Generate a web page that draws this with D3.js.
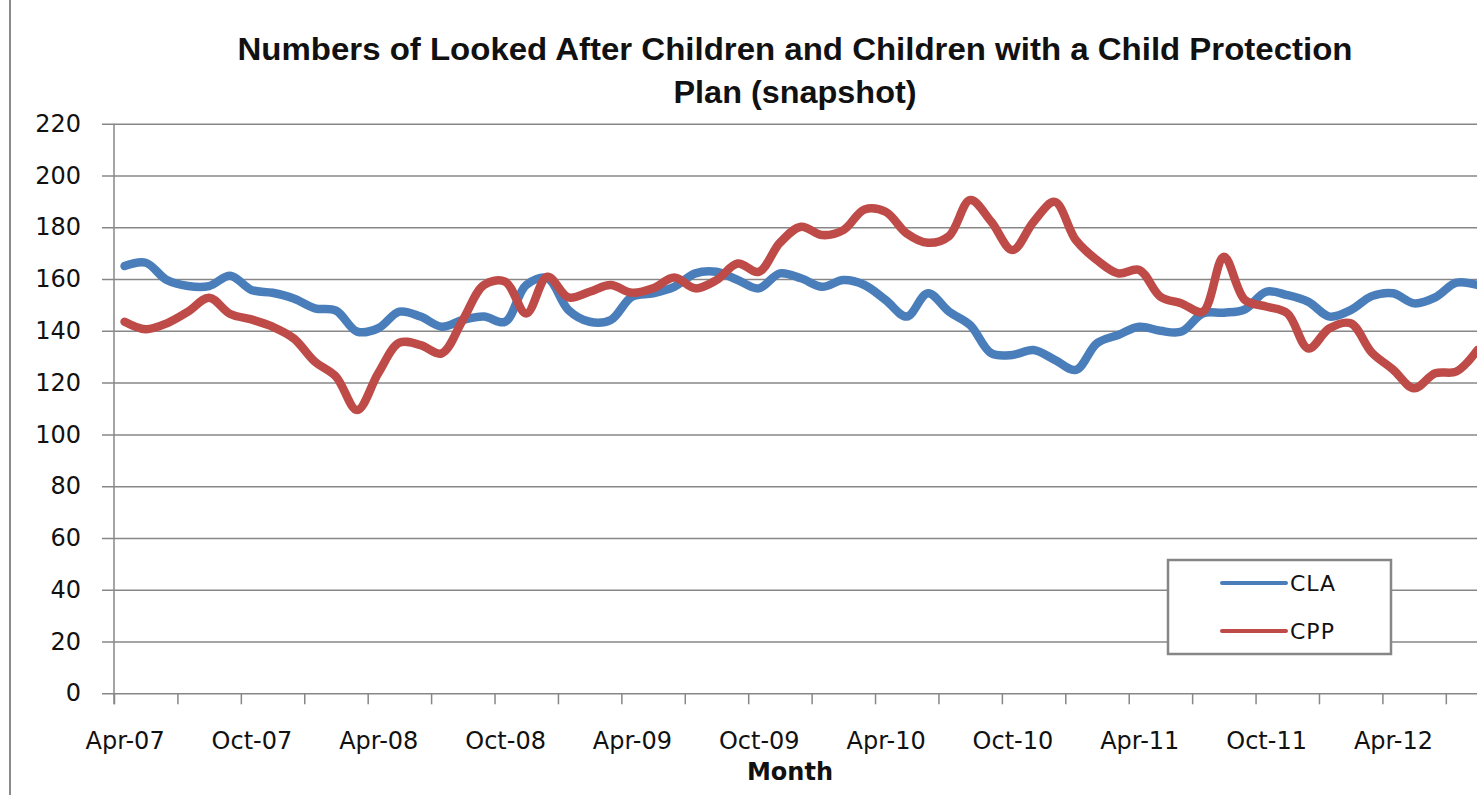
<!DOCTYPE html>
<html>
<head>
<meta charset="utf-8">
<script src="https://cdn.jsdelivr.net/npm/d3@7"></script>
<style>
  body { margin: 0; background: #fff; }
  svg { display: block; }
  .lbl { font-family: "DejaVu Sans", Verdana, sans-serif; font-size: 24px; fill: #111; }
  .axis path { display: none; }
</style>
</head>
<body>
<svg id="chart" width="1477" height="795"></svg>
<script>
// Monthly snapshot, Apr-07 .. Aug-12
var startMonth = new Date(2007, 3, 1);
var cla = [165, 166.3, 159.6, 157.3, 157.3, 161.3, 155.8, 154.7, 152.5, 148.7, 147.8, 139.7,
           141, 147.4, 145.5, 141.6, 144.2, 145.5, 143.5, 157.7, 160.3, 148, 143.5, 144.2,
           153.2, 154.5, 157, 162.2, 162.8, 159.6, 156.4, 162.2, 160.3, 157, 159.6, 157.7,
           151.9, 145.5, 154.5, 147.4, 142.2, 131.3, 130.7, 132.6, 128.8, 124.9, 135.2, 138.4,
           141.6, 140, 139.7, 146.7, 147, 148.3, 155.1, 153.8, 151.2, 145.5, 148, 153.4,
           154.5, 150.6, 152.9, 158.6, 157.7];
var cpp = [143.5, 140.6, 142.9, 147.4, 152.8, 146.5, 144.4, 141.6, 137.1, 128.1, 122.3, 109.4,
           123.6, 135.4, 134.5, 131.3, 144.2, 157.7, 159, 146.7, 160.9, 152.9, 155.1, 157.7,
           154.7, 156.4, 160.6, 156.4, 159.6, 166, 162.8, 174, 180.2, 177, 178.9, 186.9,
           186, 177.6, 174, 176.6, 190.5, 182.1, 171.2, 182.1, 189.8, 175, 167.3, 162.2,
           163.5, 153.2, 150.6, 147.4, 168.6, 151.9, 149.4, 146.8, 133.2, 141, 142.9, 131.6,
           125.1, 117.8, 123.6, 124.3, 132.6];
var seriesNames = ["CLA", "CPP"];
var seriesColors = ["#4A7EBB", "#BE4B48"];
var yTicks = [0, 20, 40, 60, 80, 100, 120, 140, 160, 180, 200, 220];
var titleLines = ["Numbers of Looked After Children and Children with a Child Protection", "Plan (snapshot)"];

var svg = d3.select("#chart");
var W = 1477;
var nMonths = 66;
var monthW = 21.14;
var left = 114;

var x = d3.scaleLinear().domain([0, nMonths]).range([left, left + nMonths * monthW]);
var y = d3.scaleLinear().domain([0, 220]).range([693.3, 123.7]);
var fmt = d3.timeFormat("%b-%y");
var months = d3.timeMonth.range(startMonth, d3.timeMonth.offset(startMonth, nMonths));

svg.append("rect").attr("width", W).attr("height", 795).attr("fill", "#fff");

// chart border on the left
svg.append("line")
  .attr("x1", 10).attr("x2", 10).attr("y1", 0).attr("y2", 795)
  .attr("stroke", "#8a8a8a").attr("stroke-width", 2);

// gridlines
var grid = svg.append("g")
  .attr("class", "axis")
  .attr("transform", "translate(102,0)")
  .call(d3.axisRight(y).tickValues(yTicks).tickSize(W - 102).tickFormat(""));
grid.selectAll("line").attr("stroke", "#878787").attr("stroke-width", 1.5);

// y labels
var yAx = svg.append("g")
  .attr("class", "axis")
  .attr("transform", "translate(" + left + ",0)")
  .call(d3.axisLeft(y).tickValues(yTicks).tickSize(0).tickPadding(33));
yAx.selectAll("text").attr("class", "lbl");

// y axis line
svg.append("line")
  .attr("x1", left).attr("x2", left).attr("y1", y(220)).attr("y2", y(0) + 11)
  .attr("stroke", "#878787").attr("stroke-width", 1.5);

// x ticks every 3 months at month boundaries
var xt = svg.append("g")
  .attr("class", "axis")
  .attr("transform", "translate(0," + y(0) + ")")
  .call(d3.axisBottom(x).tickValues(d3.range(0, nMonths + 1, 3)).tickSize(11).tickFormat(""));
xt.selectAll("line").attr("stroke", "#878787").attr("stroke-width", 1.5);

// x labels every 6 months, centred on the month
var xl = svg.append("g")
  .attr("class", "axis")
  .attr("transform", "translate(0," + y(0) + ")")
  .call(d3.axisBottom(x).tickValues(d3.range(0.5, nMonths, 6)).tickSize(0).tickPadding(0)
    .tickFormat(function(d) { return fmt(months[Math.floor(d)]); }));
xl.selectAll("text").attr("class", "lbl").attr("dy", null).attr("y", 56);

// lines
var line = d3.line()
  .x(function(d, i) { return x(i + 0.5); })
  .y(function(d) { return y(d); })
  .curve(d3.curveCatmullRom.alpha(0.5));

[cla, cpp].forEach(function(s, k) {
  svg.append("path")
    .datum(s)
    .attr("fill", "none")
    .attr("stroke", seriesColors[k])
    .attr("stroke-width", 8.5)
    .attr("stroke-linecap", "round")
    .attr("stroke-linejoin", "round")
    .attr("d", line);
});

// title
svg.selectAll(".title")
  .data(titleLines)
  .enter().append("text")
  .attr("class", "title")
  .attr("x", 795)
  .attr("y", function(d, i) { return 60 + i * 43; })
  .attr("text-anchor", "middle")
  .attr("font-family", "'Liberation Sans Narrow', 'Liberation Sans', sans-serif")
  .attr("font-weight", "bold")
  .attr("font-size", 31)
  .attr("fill", "#111")
  .attr("textLength", function(d, i) { return i === 0 ? 1115 : 243; })
  .attr("lengthAdjust", "spacingAndGlyphs")
  .text(function(d) { return d; });

// x axis title
svg.append("text")
  .attr("x", 790).attr("y", 780)
  .attr("text-anchor", "middle")
  .attr("font-family", "'DejaVu Sans', sans-serif")
  .attr("font-weight", "bold")
  .attr("font-size", 24)
  .attr("fill", "#111")
  .text("Month");

// legend
var lg = svg.append("g");
lg.append("rect")
  .attr("x", 1168).attr("y", 560).attr("width", 223).attr("height", 94)
  .attr("fill", "#fff").attr("stroke", "#868686").attr("stroke-width", 2.5);
seriesNames.forEach(function(n, k) {
  var ly = 583 + k * 48;
  lg.append("line")
    .attr("x1", 1222).attr("x2", 1286).attr("y1", ly).attr("y2", ly)
    .attr("stroke", seriesColors[k]).attr("stroke-width", 4).attr("stroke-linecap", "round");
  lg.append("text")
    .attr("x", 1290).attr("y", ly + 8)
    .attr("font-family", "'DejaVu Sans', sans-serif")
    .attr("font-size", 22)
    .attr("letter-spacing", 1)
    .attr("fill", "#111")
    .text(n);
});
</script>
</body>
</html>
